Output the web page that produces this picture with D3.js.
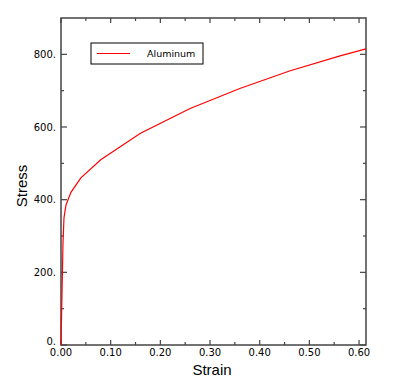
<!DOCTYPE html>
<html>
  <head>
    <script src="https://d3js.org/d3.v7.min.js"></script>
    <style>
      body { margin: 0; background: #fff; }
      .tick-label { font-family: "DejaVu Sans", sans-serif; font-size: 10px; fill: #000; }
      .axis-title { font-family: "Liberation Sans", Arial, sans-serif; font-size: 15px; fill: #000; }
      .legend-text { font-family: "DejaVu Sans", sans-serif; font-size: 9.5px; fill: #000; }
    </style>
  </head>
  <body>
    <svg width="393" height="389"></svg>
    <script>
      const strain = [0, 0.002, 0.004, 0.006, 0.01, 0.02, 0.04, 0.08, 0.16, 0.26, 0.36, 0.46, 0.56, 0.614];
      const stress = [0, 140, 280, 350, 385, 420, 460, 510, 583, 651, 706, 754, 795, 815];
      const xTicks = [0, 0.1, 0.2, 0.3, 0.4, 0.5, 0.6];
      const xMinor = [0.05, 0.15, 0.25, 0.35, 0.45, 0.55];
      const yTicks = [0, 200, 400, 600, 800];
      const yMinor = [100, 300, 500, 700];
      const seriesName = "Aluminum";

      const svg = d3.select("svg");
      const plotL = 61, plotR = 366, plotT = 18, plotB = 345;
      const x = d3.scaleLinear().domain([0, 0.614]).range([plotL, plotR]);
      const y = d3.scaleLinear().domain([0, 900]).range([plotB, plotT]);

      const axisColor = "#444";
      const g = svg.append("g");

      // ticks on all four sides, pointing inward
      function tickLinesX(vals, len) {
        vals.forEach(v => {
          g.append("line").attr("x1", x(v)).attr("x2", x(v)).attr("y1", plotB).attr("y2", plotB - len);
          g.append("line").attr("x1", x(v)).attr("x2", x(v)).attr("y1", plotT).attr("y2", plotT + len);
        });
      }
      function tickLinesY(vals, len) {
        vals.forEach(v => {
          g.append("line").attr("x1", plotL).attr("x2", plotL + len).attr("y1", y(v)).attr("y2", y(v));
          g.append("line").attr("x1", plotR).attr("x2", plotR - len).attr("y1", y(v)).attr("y2", y(v));
        });
      }
      tickLinesX(xTicks, 5);
      tickLinesX(xMinor, 3);
      tickLinesY(yTicks, 6);
      tickLinesY(yMinor, 3);
      g.selectAll("line").attr("stroke", axisColor).attr("stroke-width", 1.2);

      // frame
      svg.append("rect")
        .attr("x", plotL).attr("y", plotT)
        .attr("width", plotR - plotL).attr("height", plotB - plotT)
        .attr("fill", "none").attr("stroke", axisColor).attr("stroke-width", 1.5);

      // tick labels
      svg.selectAll(".xl").data(xTicks).enter().append("text")
        .attr("class", "tick-label")
        .attr("x", d => x(d)).attr("y", 356)
        .attr("text-anchor", "middle")
        .text(d => d.toFixed(2));

      svg.selectAll(".yl").data(yTicks).enter().append("text")
        .attr("class", "tick-label")
        .attr("x", 56).attr("y", d => d === 0 ? y(d) : y(d) + 3.5)
        .attr("text-anchor", "end")
        .text(d => d + ".");

      // axis titles
      svg.append("text").attr("class", "axis-title")
        .attr("x", 212).attr("y", 375)
        .attr("text-anchor", "middle")
        .text("Strain");
      svg.append("text").attr("class", "axis-title")
        .attr("transform", "translate(27,186) rotate(-90)")
        .attr("text-anchor", "middle")
        .text("Stress");

      // curve
      const line = d3.line().x(d => x(d[0])).y(d => y(d[1]));
      svg.append("path")
        .datum(strain.map((s, i) => [s, stress[i]]))
        .attr("d", line)
        .attr("fill", "none")
        .attr("stroke", "#ff0000")
        .attr("stroke-width", 1.2);

      // legend
      const lg = svg.append("g");
      lg.append("rect")
        .attr("x", 91).attr("y", 43).attr("width", 112).attr("height", 21)
        .attr("fill", "#fff").attr("stroke", "#000").attr("stroke-width", 1);
      lg.append("line")
        .attr("x1", 97).attr("x2", 130).attr("y1", 53.5).attr("y2", 53.5)
        .attr("stroke", "#ff0000").attr("stroke-width", 1.2);
      lg.append("text").attr("class", "legend-text")
        .attr("x", 147).attr("y", 56.5)
        .text(seriesName);
    </script>
  </body>
</html>
